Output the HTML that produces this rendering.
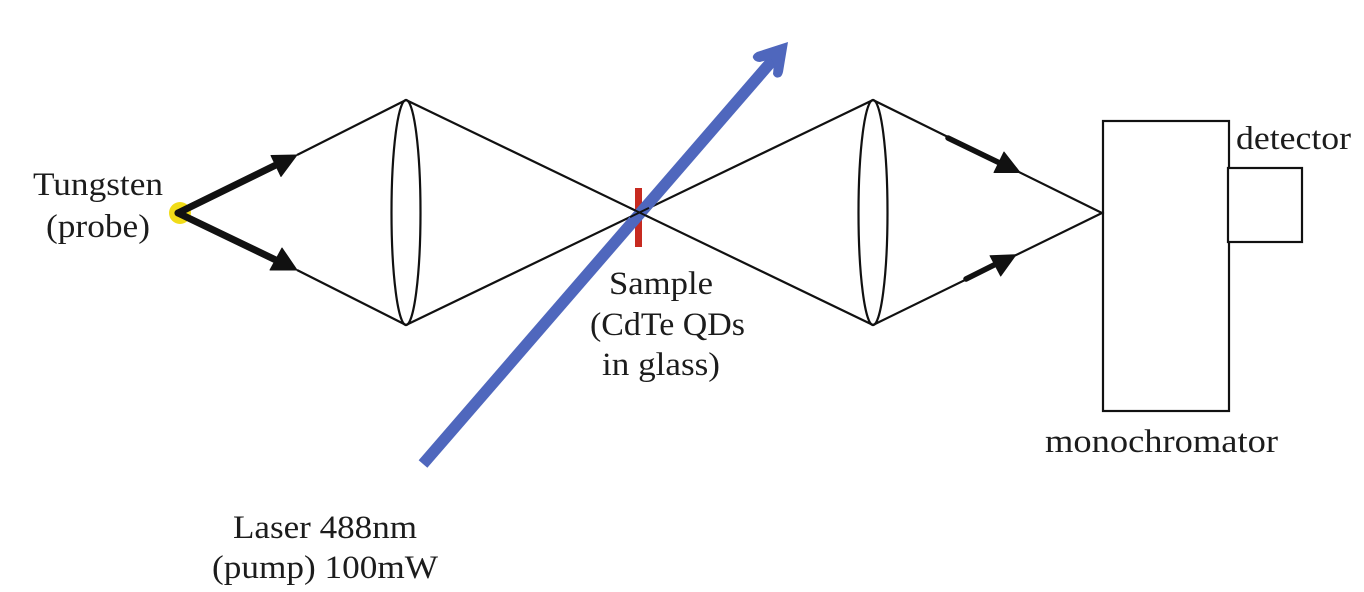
<!DOCTYPE html>
<html>
<head>
<meta charset="utf-8">
<style>
html,body{margin:0;padding:0;background:#fff;width:1364px;height:592px;overflow:hidden}
svg{display:block}
text{font-family:"Liberation Serif",serif;font-size:33px;fill:#1c1c1c}
</style>
</head>
<body>
<svg width="1364" height="592" viewBox="0 0 1364 592" xmlns="http://www.w3.org/2000/svg">
<rect width="1364" height="592" fill="#fff"/>
<circle cx="180" cy="213" r="11" fill="#f1dc18"/>
<rect x="635" y="188" width="7" height="59" fill="#c72a20"/>
<g fill="none" stroke="#111" stroke-width="2.200">
<path d="M297 155L406 100L873 325L1102 213L873 100L406 325L297 270"/>
<ellipse cx="406" cy="212.500" rx="14.500" ry="112.500"/>
<ellipse cx="873" cy="212.500" rx="14.500" ry="112.500"/>
<rect x="1103" y="121" width="126" height="290"/>
<rect x="1228" y="168" width="74" height="74" fill="#fff"/>
</g>
<g stroke="#111" fill="none" stroke-linecap="round">
<path d="M178 213L282 162" stroke-width="7"/>
<path d="M178 213L282 263" stroke-width="7"/>
<path d="M948 138L1008 167" stroke-width="5.500"/>
<path d="M966 279L1002 261" stroke-width="5.500"/>
</g>
<g fill="#111" stroke="#111" stroke-width="1" stroke-linejoin="round">
<path d="M297 155L271 155.500L281 176.500Z"/>
<path d="M297 270L270 270L282 248Z"/>
<path d="M1020 172.500L994 172.500L1004 152Z"/>
<path d="M1016 254.700L990 255.700L1000.700 276Z"/>
</g>
<path d="M423 464L778 54" stroke="#4f67bd" stroke-width="11.500" fill="none"/>
<path d="M788 42L757 52Q752 55 753 58Q755 62 760 62L771 59L774 63L773 74Q775 79 780 77Q782 76 783 72Z" fill="#4f67bd"/>
<g stroke="#111" stroke-width="2">
<path d="M630 207.900L649 217.100"/>
<path d="M630 217.100L649 207.900"/>
</g>
<text x="33" y="195" textLength="130" lengthAdjust="spacingAndGlyphs">Tungsten</text>
<text x="46" y="237" textLength="104" lengthAdjust="spacingAndGlyphs">(probe)</text>
<text x="609" y="294" textLength="104" lengthAdjust="spacingAndGlyphs">Sample</text>
<text x="590" y="335" textLength="155" lengthAdjust="spacingAndGlyphs">(CdTe QDs</text>
<text x="602" y="375" textLength="118" lengthAdjust="spacingAndGlyphs">in glass)</text>
<text x="1236" y="149" textLength="115" lengthAdjust="spacingAndGlyphs">detector</text>
<text x="1045" y="452" textLength="233" lengthAdjust="spacingAndGlyphs">monochromator</text>
<text x="233" y="538" textLength="184" lengthAdjust="spacingAndGlyphs">Laser 488nm</text>
<text x="212" y="578" textLength="226" lengthAdjust="spacingAndGlyphs">(pump) 100mW</text>
</svg>
</body>
</html>
